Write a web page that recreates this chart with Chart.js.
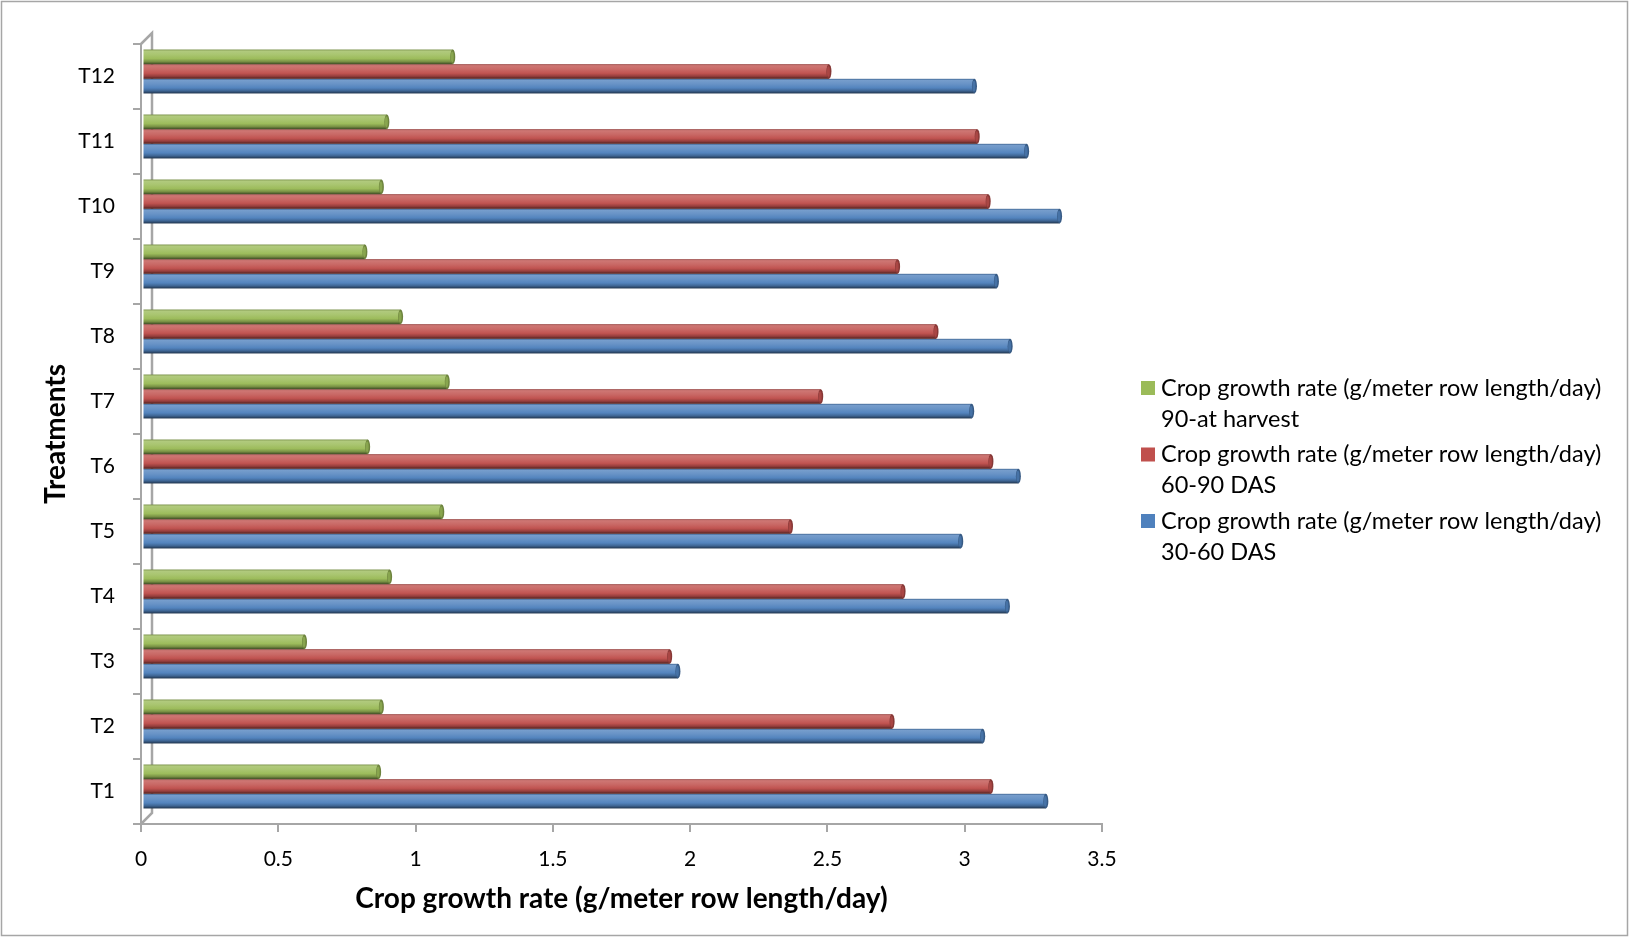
<!DOCTYPE html>
<html>
<head>
<meta charset="utf-8">
<script src="https://cdn.jsdelivr.net/npm/chart.js@4.4.1/dist/chart.umd.min.js"></script>
<style>
  html, body { margin: 0; padding: 0; background: #ffffff; }
  #wrap { width: 1631px; height: 937px; }
</style>
</head>
<body>
<div id="wrap"><canvas id="cgr" width="1631" height="937"></canvas></div>
<script>
// Treatments, bottom (T1) to top (T12)
const treatments = ['T1', 'T2', 'T3', 'T4', 'T5', 'T6', 'T7', 'T8', 'T9', 'T10', 'T11', 'T12'];

// Crop growth rate (g/meter row length/day) per growth stage
const cgr30to60 = [3.29, 3.06, 1.95, 3.15, 2.98, 3.19, 3.02, 3.16, 3.11, 3.34, 3.22, 3.03];
const cgr60to90 = [3.09, 2.73, 1.92, 2.77, 2.36, 3.09, 2.47, 2.89, 2.75, 3.08, 3.04, 2.50];
const cgr90toHarvest = [0.86, 0.87, 0.59, 0.90, 1.09, 0.82, 1.11, 0.94, 0.81, 0.87, 0.89, 1.13];

const xTickLabels = ['0', '0.5', '1', '1.5', '2', '2.5', '3', '3.5'];

const seriesLabels = [
  ['Crop growth rate (g/meter row length/day)', '90-at harvest'],
  ['Crop growth rate (g/meter row length/day)', '60-90 DAS'],
  ['Crop growth rate (g/meter row length/day)', '30-60 DAS']
];
const seriesColors = ['#9bbb59', '#c0504d', '#4f81bd'];

const xTitle = 'Crop growth rate (g/meter row length/day)';
const yTitle = 'Treatments';

const FONT = 'Lato, "Open Sans", sans-serif';

// Category axis runs top to bottom, so T12 comes first
const catsTopDown = treatments.slice().reverse();
const seriesData = [cgr90toHarvest, cgr60to90, cgr30to60].map(a => a.slice().reverse());

// colour helpers for the cylinder shading
function hexToRgb(h) {
  const n = parseInt(h.slice(1), 16);
  return [(n >> 16) & 255, (n >> 8) & 255, n & 255];
}
function shade(hex, amt) {
  const c = hexToRgb(hex);
  const t = amt >= 0 ? 255 : 0;
  const p = Math.abs(amt);
  const r = c.map(v => Math.round(v + (t - v) * p));
  return `rgb(${r[0]},${r[1]},${r[2]})`;
}

// 3D depth shift of the bars relative to the front axes
const DEPTH_DX = 1.5, DEPTH_DY = -5, CAP_RX = 2.5, WALL = 11;

function drawCylinder(ctx, x0, x1, yc, h, color) {
  const top = yc - h / 2;
  const g = ctx.createLinearGradient(0, top, 0, top + h);
  g.addColorStop(0, shade(color, -0.25));
  g.addColorStop(0.1, shade(color, 0.22));
  g.addColorStop(0.35, shade(color, 0.14));
  g.addColorStop(0.62, shade(color, 0.02));
  g.addColorStop(0.82, shade(color, -0.22));
  g.addColorStop(1, shade(color, -0.6));
  ctx.fillStyle = g;
  ctx.fillRect(x0, top, Math.max(0, x1 - x0), h);
  ctx.beginPath();
  ctx.ellipse(x1, yc, CAP_RX, h / 2, 0, 0, Math.PI * 2);
  ctx.fillStyle = shade(color, -0.3);
  ctx.fill();
  ctx.beginPath();
  ctx.ellipse(x1 - 0.5, yc, CAP_RX - 1, h / 2 - 2, 0, 0, Math.PI * 2);
  ctx.fillStyle = shade(color, -0.12);
  ctx.fill();
}

const cylinderBars = {
  id: 'cylinderBars',
  beforeDatasetDraw(chart, args) {
    const ctx = chart.ctx;
    const color = seriesColors[args.index];
    ctx.save();
    ctx.translate(DEPTH_DX, DEPTH_DY);
    args.meta.data.forEach(el => {
      drawCylinder(ctx, el.base, el.x, el.y, el.height, color);
    });
    ctx.restore();
    return false;
  }
};

const frame = {
  id: 'frame',
  beforeDraw(chart) {
    const ctx = chart.ctx;
    ctx.save();
    ctx.fillStyle = '#ffffff';
    ctx.fillRect(0, 0, chart.width, chart.height);
    ctx.strokeStyle = '#a6a6a6';
    ctx.lineWidth = 1.5;
    ctx.strokeRect(1.5, 1.5, 1626, 934);
    ctx.restore();
  },
  beforeDatasetsDraw(chart) {
    // back wall edge of the 3D plot box
    const { left, top, bottom } = chart.chartArea;
    const ctx = chart.ctx;
    ctx.save();
    ctx.strokeStyle = '#a6a6a6';
    ctx.lineWidth = 2.5;
    ctx.beginPath();
    ctx.moveTo(left, top);
    ctx.lineTo(left + WALL, top - WALL);
    ctx.lineTo(left + WALL, bottom - WALL);
    ctx.lineTo(left, bottom);
    ctx.stroke();
    ctx.restore();
  },
  afterDraw(chart) {
    // legend, right side
    const ctx = chart.ctx;
    ctx.save();
    ctx.font = `23.5px ${FONT}`;
    ctx.fillStyle = '#000';
    ctx.textBaseline = 'middle';
    ctx.textAlign = 'left';
    const x0 = 1141, firstY = 388, lineGap = 31, entryGap = 66.5;
    seriesLabels.forEach((lines, i) => {
      const y = firstY + i * entryGap;
      ctx.fillStyle = seriesColors[i];
      ctx.fillRect(x0, y - 7, 14, 14);
      ctx.fillStyle = '#000';
      lines.forEach((t, j) => ctx.fillText(t, x0 + 20, y + j * lineGap));
    });
    ctx.restore();
  }
};

new Chart(document.getElementById('cgr'), {
  type: 'bar',
  data: {
    labels: catsTopDown,
    datasets: seriesData.map((d, i) => ({
      label: seriesLabels[i].join(' '),
      data: d,
      backgroundColor: seriesColors[i],
      categoryPercentage: 0.676,
      barPercentage: 1.0
    }))
  },
  options: {
    indexAxis: 'y',
    responsive: false,
    animation: false,
    events: [],
    layout: { padding: { left: 0, top: 44, right: 529, bottom: 0 } },
    plugins: {
      legend: { display: false },
      tooltip: { enabled: false }
    },
    scales: {
      x: {
        min: 0,
        max: 3.5,
        ticks: {
          stepSize: 0.5,
          padding: 15,
          color: '#000',
          font: { family: FONT, size: 21 },
          callback: (v, i) => xTickLabels[i]
        },
        grid: { drawOnChartArea: false, tickLength: 8, color: '#a6a6a6', lineWidth: 2 },
        border: { color: '#a6a6a6', width: 2 },
        title: {
          display: true,
          text: xTitle,
          color: '#000',
          font: { family: FONT, size: 28, weight: 'bold' },
          padding: { top: 0, bottom: 21 }
        },
        afterFit: s => { s.height = 113; }
      },
      y: {
        ticks: {
          padding: 18,
          color: '#000',
          font: { family: FONT, size: 21 }
        },
        grid: { drawOnChartArea: false, tickLength: 8, color: '#a6a6a6', lineWidth: 2 },
        border: { color: '#a6a6a6', width: 2 },
        title: {
          display: true,
          text: yTitle,
          color: '#000',
          font: { family: FONT, size: 28, weight: 'bold' },
          padding: { top: 39, bottom: 0 }
        },
        afterFit: s => { s.width = 141; }
      }
    }
  },
  plugins: [frame, cylinderBars]
});
</script>
</body>
</html>
